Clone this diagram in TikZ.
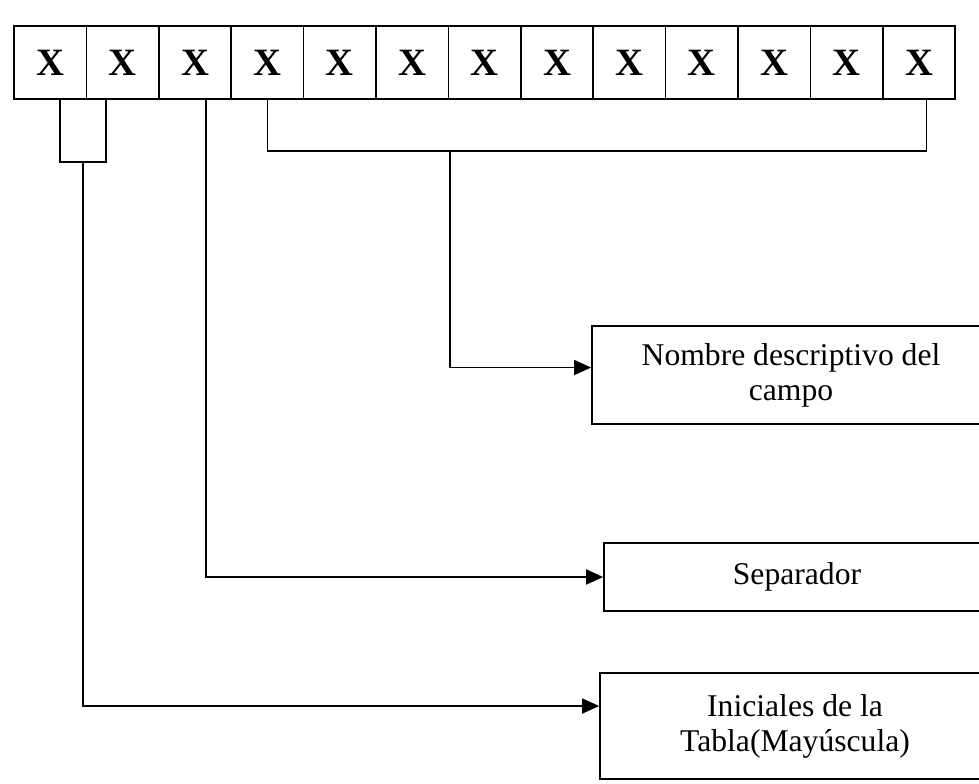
\documentclass[tikz,border=0pt]{standalone}
\usepackage{fontspec}
\setmainfont{Liberation Serif}
\usetikzlibrary{positioning, calc, arrows.meta}

\begin{document}
\begin{tikzpicture}[
  cell/.style={draw, line width=1pt, minimum width=1.448cm, minimum height=1.46cm,
    inner sep=0pt, font=\fontsize{22}{24}\selectfont\bfseries},
  desc/.style={draw, line width=1pt, align=center, inner sep=2pt,
    font=\fontsize{18}{20}\selectfont},
  link/.style={line width=1pt},
  flow/.style={link, -{Triangle[length=3.4mm, width=3mm]}}
]
  \useasboundingbox (0,0) rectangle (19.58,-15.66);

  % the field name, one cell per letter
  \foreach \i in {1,...,13}
    \node[cell] (c\i) at ({0.28+1.448*(\i-0.5)}, -1.25) {X};

  % what each part means
  \node[desc, minimum width=7.96cm, minimum height=1.96cm] (campo) at (15.82,-7.5) {Nombre descriptivo del\\campo};
  \node[desc, minimum width=7.72cm, minimum height=1.36cm] (sep) at (15.94,-11.54) {Separador};
  \node[desc, minimum width=7.8cm, minimum height=2.12cm] (ini) at (15.9,-14.52) {Iniciales de la\\Tabla(Mayúscula)};

  % initials, first two cells
  \coordinate (b1l) at ($(c1.south)+(0.2,0)$);
  \coordinate (b1r) at ($(c2.south)+(-0.33,0)$);
  \draw[link] (b1l) |- ($(b1r)+(0,-1.24)$) -- (b1r);
  \coordinate (k1) at ($(b1l)+(0.46,-1.24)$);
  \draw[flow] (k1) |- ($(ini.west)+(0,0.4)$);

  % separator, third cell
  \coordinate (k2) at ($(c3.south)+(0.22,0)$);
  \draw[flow] (k2) |- (sep.west);

  % field name, the rest
  \coordinate (b2l) at (c4.south);
  \coordinate (b2r) at ($(c13.south)+(0.15,0)$);
  \draw[link] (b2l) |- ($(b2r)+(0,-1.02)$) -- (b2r);
  \coordinate (k3) at ($(b2l)+(3.65,-1.02)$);
  \draw[flow] (k3) |- ($(campo.west)+(0,0.15)$);
\end{tikzpicture}
\end{document}
